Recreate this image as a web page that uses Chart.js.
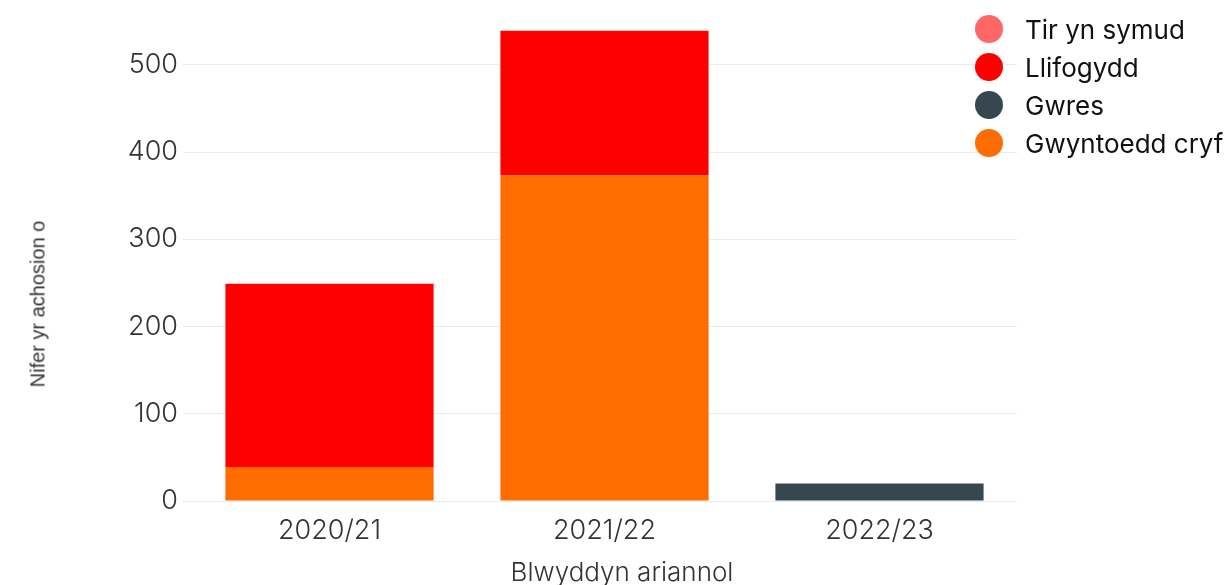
<!DOCTYPE html>
<html>
<head>
<meta charset="utf-8">
<script src="https://cdn.jsdelivr.net/npm/chart.js@4/dist/chart.umd.min.js"></script>
<style>
  html, body { margin: 0; padding: 0; background: #fff; }
  #wrap { position: relative; width: 1230px; height: 585px; overflow: hidden; }
  #c { position: absolute; left: 0; top: 0; }
  #ytitle {
    position: absolute; left: 38px; top: 304px;
    transform: translate(-50%, -50%) rotate(-90deg);
    font-family: "Liberation Sans", Arial, sans-serif; font-size: 20px; color: #333;
    white-space: nowrap;
  }
  #xtitle {
    position: absolute; left: 622px; top: 572px;
    transform: translate(-50%, -50%);
    font-family: Inter, "Open Sans", sans-serif; font-size: 26px; font-weight: 300; color: #333;
    white-space: nowrap; line-height: 1;
  }
  #legend {
    position: absolute; left: 975px; top: 10px; margin: 0; padding: 0; list-style: none;
    font-family: Inter, "Open Sans", sans-serif; font-size: 26px; color: #111;
  }
  #legend li { display: flex; align-items: center; height: 38px; white-space: nowrap; }
  #legend span.dot { display: inline-block; width: 28px; height: 28px; border-radius: 50%; margin-right: 22px; flex: none; }
</style>
</head>
<body>
<div id="wrap">
  <canvas id="c" width="1230" height="585"></canvas>
  <div id="ytitle">Nifer yr achosion o</div>
  <div id="xtitle"></div>
  <ul id="legend"></ul>
</div>
<script>
const categories = ['2020/21', '2021/22', '2022/23'];
const tirYnSymud = [0, 0, 0];
const llifogydd = [210, 166, 0];
const gwres = [0, 0, 20];
const gwyntoeddCryf = [39, 373, 0];
const yTickValues = [0, 100, 200, 300, 400, 500];
const xTitle = 'Blwyddyn ariannol';

// stacking order: bottom first
const datasets = [
  { label: 'Gwyntoedd cryf', data: gwyntoeddCryf, backgroundColor: '#ff6d00' },
  { label: 'Gwres', data: gwres, backgroundColor: '#37474f' },
  { label: 'Llifogydd', data: llifogydd, backgroundColor: '#ff0000' },
  { label: 'Tir yn symud', data: tirYnSymud, backgroundColor: '#ff6666' }
];

const tickFont = { family: 'Inter, "Open Sans", sans-serif', size: 27, weight: 300 };

const chart = new Chart(document.getElementById('c'), {
  type: 'bar',
  data: { labels: categories, datasets: datasets.map(d => Object.assign({
    borderWidth: 0, barPercentage: 0.757, categoryPercentage: 1.0, stack: 's'
  }, d)) },
  options: {
    responsive: false,
    animation: false,
    layout: { padding: { left: 0, right: 213, top: 21, bottom: 0 } },
    plugins: {
      legend: { display: false },
      title: { display: false },
      tooltip: { enabled: false }
    },
    scales: {
      x: {
        stacked: true,
        grid: { display: false, drawTicks: false },
        border: { display: false },
        ticks: { color: '#333', font: tickFont, padding: 14, maxRotation: 0 },
        afterFit: s => { s.height = 84; }
      },
      y: {
        stacked: true,
        min: 0, max: 550,
        grid: { color: '#ebebeb', lineWidth: 1, drawTicks: true, tickLength: 9, tickColor: '#ebebeb' },
        border: { display: false },
        ticks: { color: '#333', font: tickFont, padding: 5, stepSize: 100 },
        afterBuildTicks: s => { s.ticks = yTickValues.map(v => ({ value: v })); },
        afterFit: s => { s.width = 192; }
      }
    }
  }
});

document.getElementById('xtitle').textContent = xTitle;

// HTML legend built from the chart's own legend items
const items = Chart.defaults.plugins.legend.labels.generateLabels(chart).slice().reverse();
const ul = document.getElementById('legend');
items.forEach(it => {
  const li = document.createElement('li');
  const dot = document.createElement('span');
  dot.className = 'dot';
  dot.style.background = it.fillStyle;
  li.appendChild(dot);
  li.appendChild(document.createTextNode(it.text));
  ul.appendChild(li);
});
</script>
</body>
</html>
